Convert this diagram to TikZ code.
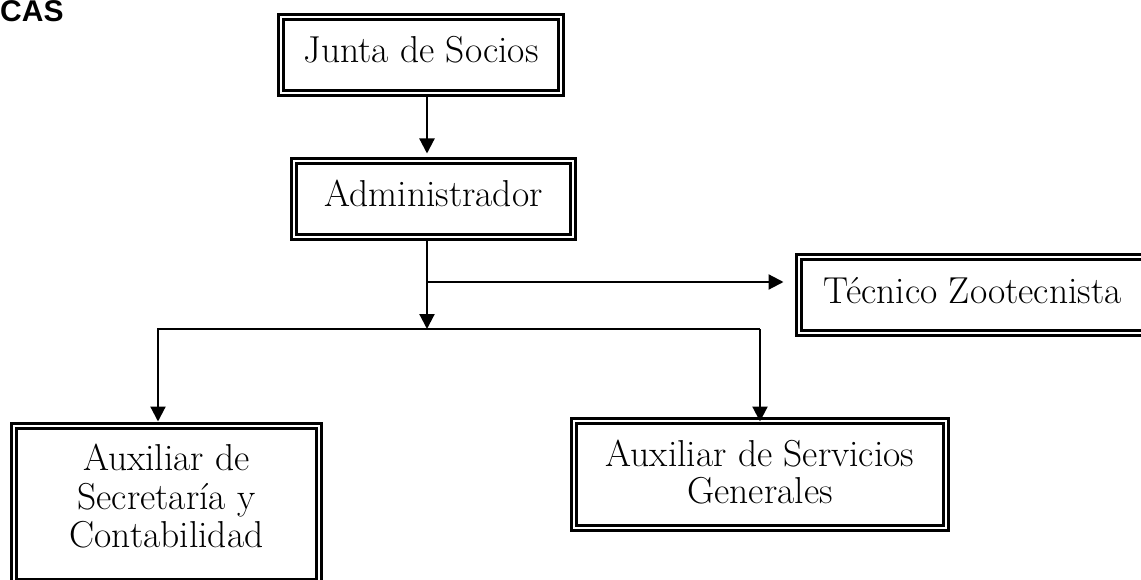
\documentclass[tikz,border=0pt]{standalone}
\usepackage{fontspec}
\newfontfamily\headfont{Liberation Sans}
\usetikzlibrary{arrows.meta}
\begin{document}
\begin{tikzpicture}[x=1pt,y=-1pt,
  box/.style={draw, line width=3pt, double=white, double distance=2pt, inner sep=0pt,
    font=\fontsize{37.5}{38.5}\selectfont},
  one/.style={text height=26pt, text depth=10pt},
  arr/.style={line width=2.2pt, line join=miter, -{Triangle[length=15pt,width=15pt]}}]
\useasboundingbox (0,0) rectangle (1141,580);
\clip (0,0) rectangle (1141,580);

\node[anchor=base west, inner sep=0pt, font=\headfont\bfseries\fontsize{30}{33}\selectfont] (cas) at (0,22) {CAS};

\node[box, one, minimum width=280pt, minimum height=76pt] (J) at (421,55) {Junta de Socios};
\node[box, one, minimum width=279pt, minimum height=76pt] (A) at (433.5,199) {Administrador};
\node[box, one, minimum width=347pt, minimum height=76pt] (T) at (972.5,295) {Técnico Zootecnista};
\node[box, text height=20pt, text depth=86.6pt, minimum width=305pt, minimum height=156pt] (S) at (166.5,504)
  {\begin{tabular}[t]{@{}c@{}}Auxiliar de\\Secretaría y\\Contabilidad\end{tabular}};
\node[box, font=\fontsize{37.5}{36.5}\selectfont, text height=20pt, text depth=35.6pt, minimum width=372pt, minimum height=107pt] (G) at (760,474.5)
  {\begin{tabular}[t]{@{}c@{}}Auxiliar de Servicios\\Generales\end{tabular}};

\coordinate (c1) at (427,0);
\coordinate (bt) at (427,282);
\coordinate (bus) at (427,329);
\coordinate (bL) at (158,329);
\coordinate (bR) at (760,329);

\draw[arr, shorten >=6pt] (J.south -| c1) -- (A.north -| c1);
\draw[arr] (A.south -| c1) -- (bus);
\draw[arr, shorten >=14pt] (bt) -- (T.west |- bt);
\draw[arr, shorten >=3pt] (bR) -- (bL) -- (S.north -| bL);
\draw[arr, shorten >=-2pt] (bR) -- (G.north -| bR);
\end{tikzpicture}
\end{document}
